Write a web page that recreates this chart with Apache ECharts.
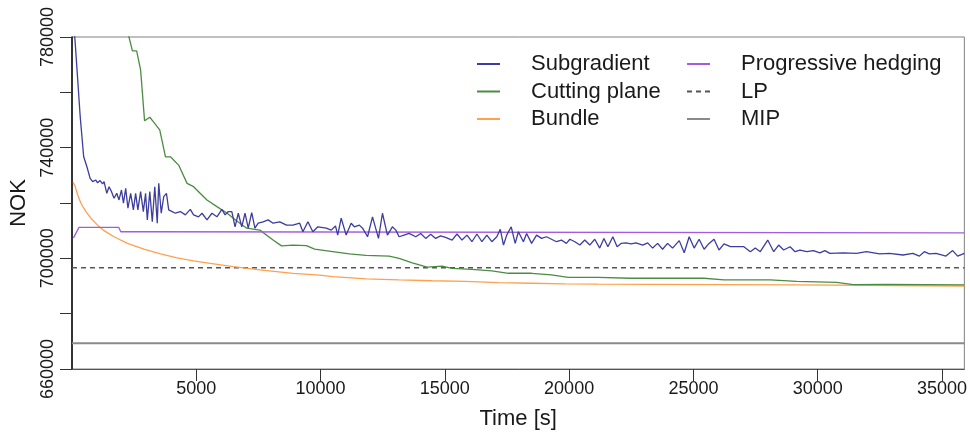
<!DOCTYPE html>
<html>
<head>
<meta charset="utf-8">
<script src="https://cdn.jsdelivr.net/npm/echarts@6/dist/echarts.min.js"></script>
<style>
  html, body {margin: 0; padding: 0; background: #fff;}
  #chart {width: 970px; height: 438px;}
</style>
</head>
<body>
<div id="chart"></div>
<script>
// [time in s, objective in NOK]
const subgradient = [
  [80,782500],[120,778900],[230,764500],[330,751200],[470,736700],[600,733100],[730,728900],[830,727700],
  [960,728300],[1030,727300],[1130,728100],[1230,726900],[1290,727700],[1400,723500],[1490,725900],[1590,724100],
  [1690,721700],[1800,723500],[1890,721100],[1990,724700],[2070,719900],[2160,725300],[2250,718100],[2360,723500],
  [2470,717500],[2560,723500],[2650,717500],[2760,724100],[2870,716900],[2960,723500],[3030,713900],[3130,724100],
  [3230,713200],[3330,725900],[3430,712700],[3490,727100],[3590,716300],[3690,722300],[3800,723500],[3890,717500],
  [4030,716900],[4160,716300],[4360,716900],[4560,715700],[4760,717700],[4890,715700],[5090,715000],[5230,716300],
  [5430,713900],[5630,716300],[5830,715000],[6030,717700],[6160,715700],[6290,716900],[6430,716900],[6560,711400],
  [6690,716300],[6830,711400],[6960,716300],[7090,710900],[7230,716500],[7360,710900],[7490,712700],[7690,713200],
  [7890,713900],[8090,712700],[8360,713200],[8630,712000],[8890,712000],[9160,712700],[9290,709600],[9490,713200],
  [9690,709600],[9890,711400],[10230,710900],[10430,710200],[10600,711700],[10690,708400],[10830,714500],[11030,708400],
  [11230,712700],[11360,711400],[11560,712000],[11690,710900],[11890,707800],[12090,715000],[12330,707200],[12490,716300],
  [12690,708400],[12890,711400],[13030,710200],[13160,707800],[13360,708400],[13560,709000],[13830,707800],[14030,709000],
  [14230,707200],[14430,708700],[14630,707200],[14830,708100],[15030,707600],[15290,706600],[15490,708800],[15690,706600],
  [15890,708400],[16090,706000],[16290,708800],[16490,706000],[16690,708400],[16890,706000],[17090,707800],[17230,710500],
  [17360,704800],[17490,708400],[17670,711400],[17830,705400],[17960,709600],[18160,706000],[18290,709000],[18490,705400],
  [18690,708400],[18890,707200],[19090,707800],[19290,706900],[19490,706000],[19690,706600],[19890,705400],[20030,706900],
  [20230,706000],[20430,704800],[20630,706600],[20830,704800],[21030,706900],[21230,703700],[21400,707200],[21560,704200],
  [21760,707800],[21930,704200],[22090,705400],[22290,705600],[22490,705200],[22690,705600],[22960,704800],[23160,705600],
  [23360,703700],[23560,705400],[23760,703300],[23960,705400],[24160,703700],[24430,706400],[24630,702000],[24830,707800],
  [25030,703700],[25230,706900],[25430,703300],[25630,705400],[25830,706900],[26030,703000],[26230,705200],[26490,704200],
  [27030,704200],[27290,702400],[27490,703700],[27690,702400],[27990,706600],[28230,702400],[28430,704800],[28630,703000],
  [28890,704200],[29090,702400],[29290,703000],[29560,702400],[29830,702800],[30090,702000],[30290,702800],[30490,701800],
  [31030,702000],[31560,701800],[31960,702400],[32490,701600],[32890,701800],[33430,701200],[33830,701800],[34090,700800],
  [34290,702400],[34490,701600],[34760,701800],[35160,700800],[35430,702800],[35630,700800],[35900,701800]
];

const cuttingPlane = [
  [2200,782500],[2290,780100],[2430,775000],[2600,775000],[2760,768100],[2920,749700],[3130,751000],[3270,749400],
  [3530,746400],[3760,736700],[3960,736700],[4290,733700],[4630,727100],[4890,725900],[5430,721100],[5830,718700],
  [6230,716400],[6630,713500],[7030,710900],[7560,710200],[8090,706600],[8430,704500],[8890,704800],[9430,704600],
  [9760,703300],[10490,702400],[11160,701600],[11830,701100],[12760,700800],[13160,700000],[13690,698400],[14290,696800],
  [14890,697200],[15290,696400],[16090,696000],[16890,695500],[17560,694600],[18490,694600],[19290,694000],[19960,693100],
  [21160,693100],[22490,692800],[25430,692800],[26230,692200],[28090,692200],[29160,691700],[30760,691300],[31430,690500],
  [32760,690600],[35900,690400]
];

const bundle = [
  [40,727500],[120,726100],[230,722900],[360,719900],[560,716900],[760,714500],[1030,712000],[1290,710000],
  [1690,707800],[2230,705400],[2890,703300],[3560,701600],[4230,700200],[4890,699100],[5560,698200],[6490,697000],
  [7560,695800],[8890,694600],[9960,693900],[10490,693400],[11830,692600],[13160,692200],[14490,691900],[15830,691700],
  [17160,691200],[18490,691000],[19830,690800],[21160,690700],[23160,690600],[29160,690400],[35900,690000]
];

const progressiveHedging = [
  [60,707400],[280,711200],[1880,711200],[1960,709600],[2960,709600],[3040,709200],[35900,709200]
];

const lpBound = 696600;
const mipValue = 669300;
const timeRange = [0, 35900];

const xTicks = [5000, 10000, 15000, 20000, 25000, 30000, 35000];
const yTicks = [660000, 680000, 700000, 720000, 740000, 760000, 780000];
const yLabels = [660000, 700000, 740000, 780000];

const FONT = "'Liberation Sans', Arial, sans-serif";
const TXT = '#1a1a1a';

const chart = echarts.init(document.getElementById('chart'), null, {renderer: 'canvas'});

function lineSeries(name, data, color, extra) {
  return Object.assign({
    name: name,
    type: 'line',
    data: data,
    symbol: 'none',
    showSymbol: false,
    animation: false,
    lineStyle: {color: color, width: 1.3},
    itemStyle: {color: color},
    emphasis: {disabled: true},
  }, extra || {});
}

const legendBase = {
  orient: 'vertical',
  padding: 0,
  itemWidth: 23,
  itemHeight: 10,
  itemGap: 5.5,
  selectedMode: false,
  itemStyle: {opacity: 0},
  textStyle: {fontFamily: FONT, fontSize: 22, color: TXT, lineHeight: 22, padding: [0, 0, 0, 26]},
};

chart.setOption({
  animation: false,
  backgroundColor: '#fff',
  grid: {
    left: 72, right: 2, top: 37, bottom: 69,
    show: true, borderColor: '#808080', borderWidth: 1,
  },
  legend: [
    Object.assign({}, legendBase, {left: 476, top: 53, data: ['Subgradient', 'Cutting plane', 'Bundle']}),
    Object.assign({}, legendBase, {left: 686, top: 53, data: ['Progressive hedging', 'LP', 'MIP']}),
  ],
  xAxis: {
    type: 'value',
    min: timeRange[0],
    max: timeRange[1],
    interval: 5000,
    name: 'Time [s]',
    nameLocation: 'middle',
    nameGap: 39,
    nameTextStyle: {fontFamily: FONT, fontSize: 22, color: TXT},
    splitLine: {show: false},
    axisLine: {lineStyle: {color: '#555', width: 1}},
    axisTick: {length: 12, lineStyle: {color: '#333'}, customValues: xTicks},
    axisLabel: {
      fontFamily: FONT, fontSize: 18, color: TXT, margin: 11,
      customValues: xTicks,
      formatter: v => (v === 0 ? '' : String(v)),
    },
  },
  yAxis: {
    type: 'value',
    min: 660000,
    max: 780000,
    interval: 20000,
    name: 'NOK',
    nameLocation: 'middle',
    nameGap: 42,
    nameTextStyle: {fontFamily: FONT, fontSize: 22, color: TXT},
    splitLine: {show: false},
    axisLine: {show: true, lineStyle: {color: '#111', width: 1.6}},
    axisTick: {length: 12, lineStyle: {color: '#333'}, customValues: yTicks},
    axisLabel: {
      fontFamily: FONT, fontSize: 18, color: TXT, margin: 15, rotate: 90,
      customValues: yLabels,
      formatter: v => ((v - 660000) % 40000 === 0 ? String(v) : ''),
    },
  },
  series: [
    lineSeries('MIP', [[timeRange[0], mipValue], [timeRange[1], mipValue]], '#8a8a8a', {lineStyle: {color: '#8a8a8a', width: 2}}),
    lineSeries('LP', [[timeRange[0], lpBound], [timeRange[1], lpBound]], '#555555', {lineStyle: {color: '#555555', width: 1.3, type: [5, 4]}}),
    lineSeries('Bundle', bundle, '#ffa04f'),
    lineSeries('Cutting plane', cuttingPlane, '#4c8c42'),
    lineSeries('Progressive hedging', progressiveHedging, '#a35be0'),
    lineSeries('Subgradient', subgradient, '#3d3d9e'),
  ],
});
</script>
</body>
</html>
